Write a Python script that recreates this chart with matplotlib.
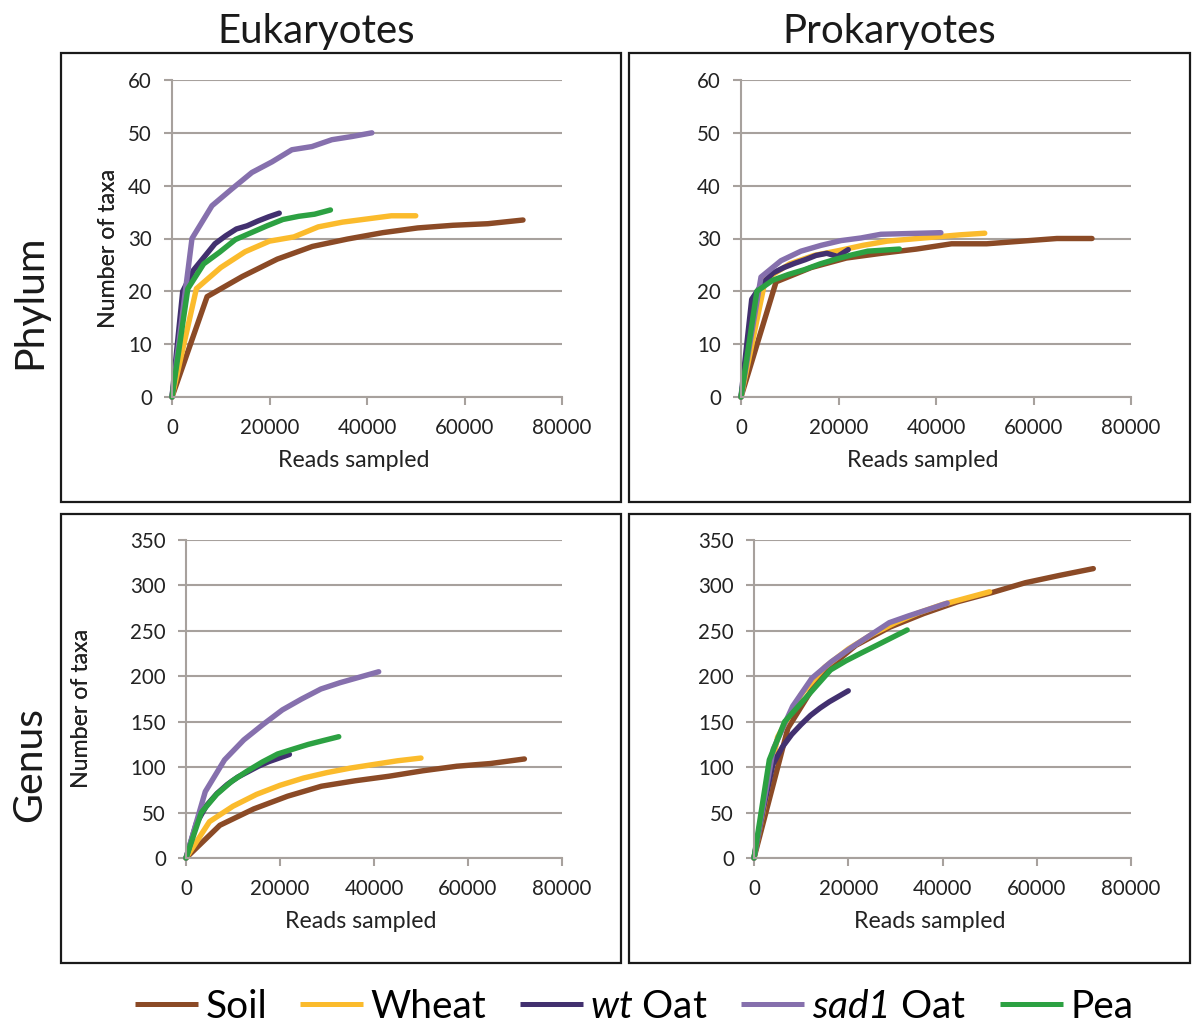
import matplotlib
matplotlib.use("Agg")
from matplotlib import pyplot as plt
from matplotlib.patches import Rectangle
from matplotlib.lines import Line2D

plt.rcParams['font.family'] = ['Lato', 'DejaVu Sans']
plt.rcParams['mathtext.fontset'] = 'custom'
plt.rcParams['mathtext.rm'] = 'Lato'
plt.rcParams['mathtext.sf'] = 'Lato:italic'  # sf slot keeps digits italic too

# reads sampled at each rarefaction step
x_soil = [0, 7200, 14400, 21600, 28800, 36000, 43200, 50400, 57600, 64800, 72000]
x_wheat = [0, 5000, 10000, 15000, 20000, 25000, 30000, 35000, 40000, 45000, 50000]
x_wt = [0, 2200, 4400, 6600, 8800, 11000, 13200, 15400, 17600, 19800, 22000]
x_wt_pg = [0, 2000, 4000, 6000, 8000, 10000, 12000, 14000, 16000, 18000, 20000]
x_sad1 = [0, 4100, 8200, 12300, 16400, 20500, 24600, 28700, 32800, 36900, 41000]
x_pea = [0, 3250, 6500, 9750, 13000, 16250, 19500, 22750, 26000, 29250, 32500]

# Eukaryotes, phylum
ep_soil = [0, 19, 22.8, 26.1, 28.5, 29.9, 31.1, 32, 32.5, 32.8, 33.5]
ep_wheat = [0, 20.5, 24.5, 27.5, 29.5, 30.3, 32.2, 33.1, 33.7, 34.3, 34.3]
ep_wt = [0, 20, 24, 26.5, 29, 30.5, 31.8, 32.4, 33.3, 34.1, 34.8]
ep_sad1 = [0, 30, 36.2, 39.4, 42.5, 44.5, 46.8, 47.4, 48.7, 49.3, 50]
ep_pea = [0, 20.5, 25.2, 27.4, 29.8, 31.1, 32.4, 33.6, 34.2, 34.6, 35.4]

# Prokaryotes, phylum
pp_soil = [0, 21.8, 24.5, 26.3, 27.2, 28, 29, 29, 29.5, 30, 30]
pp_wheat = [0, 22.3, 25.2, 26.8, 27.7, 28.7, 29.5, 29.9, 30.3, 30.7, 31]
pp_wt = [0, 18.5, 21.5, 23.5, 24.5, 25.3, 26, 26.8, 27.2, 26.6, 27.9]
pp_sad1 = [0, 22.7, 25.8, 27.6, 28.7, 29.6, 30.1, 30.8, 30.9, 31, 31.1]
pp_pea = [0, 20, 22.1, 23.2, 24.1, 25.2, 26.1, 26.9, 27.6, 27.8, 28]

# Eukaryotes, genus
eg_soil = [0, 36, 54, 68, 79, 85, 90, 96, 101, 104, 109]
eg_wheat = [0, 40, 57, 70, 80, 88, 94, 99, 103, 107, 110]
eg_wt = [0, 38, 58, 71, 81, 89, 95, 101, 106, 110, 114]
eg_sad1 = [0, 73, 108, 130, 147, 163, 175, 186, 193, 199, 205]
eg_pea = [0, 50, 70, 84.5, 95.6, 105.7, 114.5, 119.8, 125, 129.3, 133.5]

# Prokaryotes, genus
pg_soil = [0, 143, 203, 234, 254, 269, 282, 292, 303, 311, 318.5]
pg_wheat = [0, 133, 180, 210, 230, 246, 259, 270, 279, 286, 293]
pg_wt = [0, 55, 103, 122, 136, 147, 157, 165, 172, 178, 184]
pg_sad1 = [0, 120, 167, 198, 216, 231, 245, 259, 266.5, 273.4, 280.5]
pg_pea = [0, 108, 150, 169, 188, 207, 217, 225.6, 234, 242.5, 251]

labels = ['Soil', 'Wheat', r'$\mathsf{wt}$ Oat', r'$\mathsf{sad1}$ Oat', 'Pea']
colors = ['#8b4a26', '#fbbb2c', '#42306f', '#8670ad', '#2ca142']
grid_col = '#a7a19d'
txt_col = '#222222'

W, H = 1196, 1026
fig = plt.figure(figsize=(W / 100, H / 100), dpi=100)

def fx(px):
    return px / W

def fy(py):
    return 1 - py / H

# black boxes round each panel
for (x0, y0, x1, y1) in [(61, 53, 621, 502), (629, 53, 1190, 502),
                         (61, 514, 621, 963), (629, 514, 1190, 963)]:
    fig.patches.append(Rectangle((fx(x0), fy(y1)), fx(x1 - x0), (y1 - y0) / H,
                                 transform=fig.transFigure, fill=False,
                                 edgecolor='#1a1a1a', linewidth=1.6))

panels = [
    ((172, 80, 562, 397), [0, 60], 10, (x_soil, ep_soil), (x_wheat, ep_wheat),
     (x_wt, ep_wt), (x_sad1, ep_sad1), (x_pea, ep_pea)),
    ((741, 80, 1131, 397), [0, 60], 10, (x_soil, pp_soil), (x_wheat, pp_wheat),
     (x_wt, pp_wt), (x_sad1, pp_sad1), (x_pea, pp_pea)),
    ((186, 540, 562, 858), [0, 350], 50, (x_soil, eg_soil), (x_wheat, eg_wheat),
     (x_wt, eg_wt), (x_sad1, eg_sad1), (x_pea, eg_pea)),
    ((754, 540, 1131, 858), [0, 350], 50, (x_soil, pg_soil), (x_wheat, pg_wheat),
     (x_wt_pg, pg_wt), (x_sad1, pg_sad1), (x_pea, pg_pea)),
]

for box, ylim, ystep, *series in panels:
    l, t, r, b = box
    ax = fig.add_axes([fx(l), fy(b), fx(r - l), (b - t) / H])
    for (xs, ys), c in zip(series, colors):
        ax.plot(xs, ys, color=c, lw=3.9, solid_capstyle='round', clip_on=False)
    ax.set_xlim(0, 80000)
    ax.set_ylim(*ylim)
    ax.set_xticks([0, 20000, 40000, 60000, 80000])
    ax.set_yticks(range(ylim[0], ylim[1] + 1, ystep))
    ax.set_xticklabels(['0', '20000', '40000', '60000', '80000'])
    ax.yaxis.grid(True, color=grid_col, lw=1.5)
    ax.set_axisbelow(True)
    for s in ['top', 'right']:
        ax.spines[s].set_visible(False)
    for s in ['left', 'bottom']:
        ax.spines[s].set_color(grid_col)
        ax.spines[s].set_linewidth(1.5)
    ax.tick_params(axis='y', direction='out', length=5.5, width=1.5, color=grid_col,
                   labelsize=14.8, pad=9, labelcolor=txt_col)
    ax.tick_params(axis='x', direction='out', length=6, width=1.5, color=grid_col,
                   labelsize=14.8, pad=9, labelcolor=txt_col)
    ax.set_xlabel('Reads sampled', fontsize=16.7, color=txt_col)
    ax.xaxis.set_label_coords(0.465, -0.168)
    ax.set_ylabel('Number of taxa', fontsize=16.7, color=txt_col)
    ax.yaxis.set_label_coords(-(l - (119 if b < 500 else 92)) / (r - l), 0.47)

fig.text(fx(316), fy(31), 'Eukaryotes', fontsize=29, ha='center', va='center', color='#1a1a1a')
fig.text(fx(889), fy(31), 'Prokaryotes', fontsize=29, ha='center', va='center', color='#1a1a1a')
fig.text(fx(30), fy(302), 'Phylum', fontsize=29.5, rotation=90, ha='center', va='center', color='#1a1a1a')
fig.text(fx(30), fy(765), 'Genus', fontsize=29.5, rotation=90, ha='center', va='center', color='#1a1a1a')

handles = [Line2D([], [], color=c, lw=3.6, solid_capstyle='butt') for c in colors]
fig.legend(handles, labels, loc='center', bbox_to_anchor=(fx(634), fy(1007)), ncol=5,
           frameon=False, fontsize=28, handlelength=1.62, handletextpad=0.2,
           columnspacing=0.85, borderpad=0)

fig.savefig('out.png', dpi=100)
